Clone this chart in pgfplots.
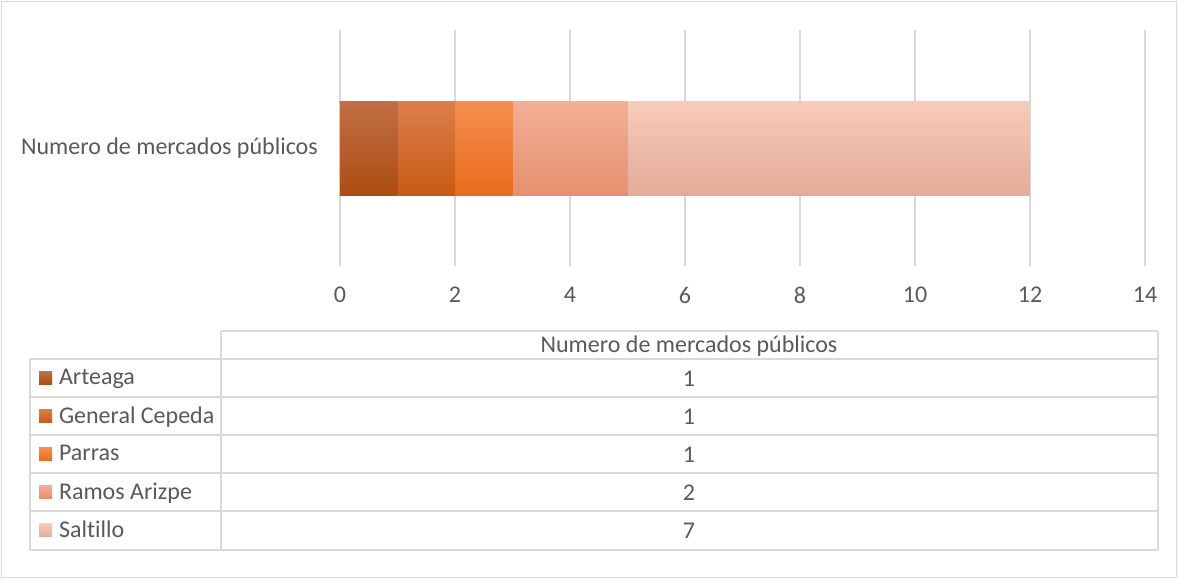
\documentclass[border=0pt]{standalone}
\usepackage{fontspec}
\setmainfont{Carlito}[Ligatures=NoCommon]
\usepackage{pgfplots}
\pgfplotsset{compat=1.18}
\definecolor{txt}{HTML}{595959}
\definecolor{gridc}{HTML}{D9D9D9}
\definecolor{aT}{HTML}{C16F46}\definecolor{aB}{HTML}{AC4D12}
\definecolor{gT}{HTML}{DD7E4B}\definecolor{gB}{HTML}{C85A15}
\definecolor{pT}{HTML}{F58E51}\definecolor{pB}{HTML}{E86C1A}
\definecolor{rT}{HTML}{F4AF95}\definecolor{rB}{HTML}{E4906F}
\definecolor{sT}{HTML}{F8CBBA}\definecolor{sB}{HTML}{E3AB9A}
\begin{document}
\begin{tikzpicture}[font=\fontsize{24}{28}\selectfont]
\useasboundingbox (0pt,0pt) rectangle (1178pt,-579pt);
\draw[gridc, line width=1.5pt] (1.5pt,-1.5pt) rectangle (1176.5pt,-577.5pt);
\pgfplotsset{tabkey/.style={legend image code/.code={%
  \path (0pt,0pt) (23pt,0pt);
  \fill[##1] (9pt,-6.5pt) rectangle (22pt,6.5pt);}}}
\begin{axis}[
  at={(340pt,-266pt)}, anchor=south west,
  scale only axis, width=805pt, height=236pt,
  xbar stacked, bar width=94pt,
  xmin=0, xmax=14, ymin=-1, ymax=1,
  xtick={0,2,...,14}, ytick={0},
  yticklabels={Numero de mercados públicos},
  xmajorgrids, major grid style={gridc, line width=1.5pt},
  axis line style={draw=none}, tick style={draw=none},
  /pgf/number format/assume math mode=true,
  tick label style={font=\fontsize{24}{28}\selectfont, text=txt, inner sep=0pt},
  xticklabel shift=21pt, yticklabel shift=22pt,
  legend cell align=left,
  legend style={at={(axis description cs:-0.38509,-0.3941)}, anchor=north west,
    draw=none, fill=none, inner sep=0pt, outer sep=0pt, row sep=0pt, column sep=6pt,
    nodes={inner sep=0pt, minimum height=38pt, text=txt, font=\fontsize{24}{28}\selectfont}},
  tabkey,
]
\addplot[draw=none, top color=aT, bottom color=aB, tabkey] coordinates {(1,0)};
\addplot[draw=none, top color=gT, bottom color=gB, tabkey] coordinates {(1,0)};
\addplot[draw=none, top color=pT, bottom color=pB, tabkey] coordinates {(1,0)};
\addplot[draw=none, top color=rT, bottom color=rB, tabkey] coordinates {(2,0)};
\addplot[draw=none, top color=sT, bottom color=sB, tabkey] coordinates {(7,0)};
\legend{Arteaga, General Cepeda, Parras, Ramos Arizpe, Saltillo}
\end{axis}
% data table
\begin{scope}[gridc, line width=1.8pt]
\draw (221pt,-331pt) -- (1158pt,-331pt);
\foreach \yy in {359,397,435,473,511,550} \draw (30pt,-\yy pt) -- (1158pt,-\yy pt);
\draw (30pt,-359pt) -- (30pt,-550pt);
\draw (221pt,-331pt) -- (221pt,-550pt);
\draw (1158pt,-331pt) -- (1158pt,-550pt);
\end{scope}
\node[text=txt] at (689pt,-346pt) {Numero de mercados públicos};
\node[text=txt] at (689pt,-379pt) {1};
\node[text=txt] at (689pt,-417pt) {1};
\node[text=txt] at (689pt,-455pt) {1};
\node[text=txt] at (689pt,-493pt) {2};
\node[text=txt] at (689pt,-531pt) {7};
\end{tikzpicture}
\end{document}
